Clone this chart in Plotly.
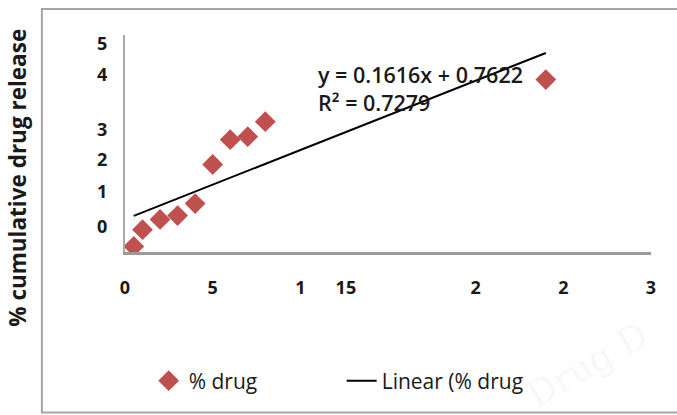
import plotly.graph_objects as go

# Data (time, % cumulative drug release)
time_h = [0.5, 1, 2, 3, 4, 5, 6, 7, 8, 24]
release = [0.13, 0.52, 0.76, 0.85, 1.13, 2.04, 2.62, 2.69, 3.04, 4.02]

# Linear trend line as printed on the chart
slope = 0.1616
intercept = 0.7622
trend_x = [0.5, 24]
trend_y = [slope * x + intercept for x in trend_x]

# Tick labels as they appear (distorted scan)
x_tickvals = [0, 5, 10, 12.6, 20, 25, 30]
x_ticktext = ["0", "5", "1", "15", "2", "2", "3"]
y_tickvals = [0.59, 1.41, 2.16, 2.86, 4.14, 4.86]
y_ticktext = ["0", "1", "2", "3", "4", "5"]

RED = "#c0504d"
TXT = "#1a1a1a"

fig = go.Figure()
fig.add_trace(go.Scatter(
    x=time_h, y=release, mode="markers", name="% drug",
    marker=dict(symbol="diamond", size=16, color=RED, line=dict(width=0)),
))
fig.add_trace(go.Scatter(
    x=trend_x, y=trend_y, mode="lines", name="Linear (% drug",
    line=dict(color="black", width=2),
))

fig.update_layout(
    width=677, height=415,
    margin=dict(l=125, r=26, t=35, b=163),
    paper_bgcolor="white", plot_bgcolor="white",
    font=dict(family="Open Sans", color=TXT),
    showlegend=True,
    legend=dict(
        orientation="h", x=0.045, y=-0.5, xanchor="left", yanchor="top",
        font=dict(family="Open Sans", size=21, color=TXT),
        entrywidth=148, entrywidthmode="pixels",
        bgcolor="rgba(0,0,0,0)",
    ),
    xaxis=dict(
        range=[0, 30], showgrid=False, zeroline=False,
        showline=True, linecolor="#9a9a9a", linewidth=3,
        tickmode="array", tickvals=x_tickvals, ticktext=x_ticktext,
        ticks="", ticklabelstandoff=17,
        tickfont=dict(family="Open Sans", size=18, color=TXT, weight="bold"),
    ),
    yaxis=dict(
        range=[0, 5.06], showgrid=False, zeroline=False,
        showline=True, linecolor="#a8a8a8", linewidth=2,
        tickmode="array", tickvals=y_tickvals, ticktext=y_ticktext,
        ticks="", ticklabelstandoff=12,
        tickfont=dict(family="Open Sans", size=18, color=TXT, weight="bold"),
    ),
    shapes=[
        dict(type="rect", xref="paper", yref="paper",
             x0=-0.158, x1=1.2, y0=-0.74, y1=1.12,
             line=dict(color="#a6a6a6", width=2), fillcolor="rgba(0,0,0,0)",
             layer="below"),
    ],
    annotations=[
        dict(text="% cumulative drug release", xref="paper", yref="paper",
             x=-0.205, y=0.343, xanchor="center", yanchor="middle",
             textangle=-90, showarrow=False,
             font=dict(family="Open Sans", size=22.5, color=TXT, weight="bold")),
        dict(text="y = 0.1616x + 0.7622", xref="x", yref="y",
             x=10.9, y=4.14, xanchor="left", yanchor="middle", showarrow=False,
             font=dict(family="Open Sans", size=21.5, color=TXT, weight=600)),
        dict(text="R² = 0.7279", xref="x", yref="y",
             x=10.9, y=3.48, xanchor="left", yanchor="middle", showarrow=False,
             font=dict(family="Open Sans", size=21.5, color=TXT, weight=600)),
        dict(text="Drug D", xref="paper", yref="paper",
             x=0.88, y=-0.52, xanchor="center", yanchor="middle",
             textangle=-30, showarrow=False,
             font=dict(family="DejaVu Serif", size=36, color="rgba(0,0,0,0.05)")),
    ],
)

fig.write_html("out.html")
